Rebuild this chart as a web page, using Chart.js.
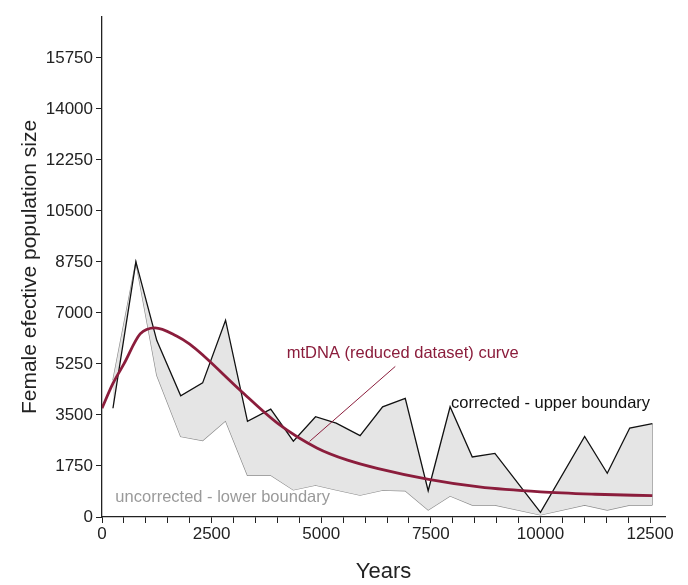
<!DOCTYPE html>
<html>
<head>
<meta charset="utf-8">
<script src="https://cdn.jsdelivr.net/npm/chart.js@4"></script>
<style>
  html, body { margin: 0; padding: 0; background: #fff; }
  #wrap { width: 688px; height: 585px; }
</style>
</head>
<body>
<div id="wrap"><canvas id="neChart"></canvas></div>
<script>
// corrected - upper boundary
const upperYears = [250, 773, 1250, 1795, 2295, 2818, 3318, 3848, 4364, 4870, 5341, 5886, 6400, 6916, 7439, 7939, 8445, 8961, 10000, 11007, 11523, 12036, 12552];
const upperNe    = [3730, 8750, 6050, 4160, 4600, 6750, 3280, 3700, 2600, 3440, 3220, 2790, 3780, 4070, 900, 3780, 2060, 2180, 160, 2760, 1500, 3050, 3200];

// uncorrected - lower boundary
const lowerYears = upperYears;
const lowerNe    = [4690, 8750, 4860, 2760, 2620, 3300, 1430, 1430, 930, 1090, 930, 750, 920, 900, 240, 720, 410, 410, 70, 410, 240, 410, 410];

// mtDNA (reduced dataset) curve
const curveYears = [0, 250, 500, 870, 1210, 1700, 2000, 2310, 3150, 4000, 4900, 5600, 6300, 7450, 8600, 10000, 11250, 12550];
const curveNe    = [3730, 4580, 5250, 6280, 6490, 6210, 5930, 5540, 4350, 3220, 2370, 1950, 1660, 1290, 1030, 860, 780, 730];

// leader line from curve to its label
const leaderYears = [4734, 6689];
const leaderNe    = [2593, 5165];

// tick values
const yTicks = [0, 1750, 3500, 5250, 7000, 8750, 10500, 12250, 14000, 15750];
const xLabels = [0, 2500, 5000, 7500, 10000, 12500];
const xMinorStep = 500;

const pts = (xs, ys) => xs.map((x, i) => ({ x: x, y: ys[i] }));

const FONT = "'Liberation Sans', Arial, sans-serif";
const MAROON = '#8b1d3c';

const textLabels = [
  { text: 'mtDNA (reduced dataset) curve', x: 4214, y: 5625, color: MAROON },
  { text: 'corrected - upper boundary', x: 7961, y: 3910, color: '#111' },
  { text: 'uncorrected - lower boundary', x: 305, y: 686, color: '#9a9a9a' }
];

const labelPlugin = {
  id: 'labels',
  afterDatasetsDraw(chart) {
    const ctx = chart.ctx, xs = chart.scales.x, ys = chart.scales.y;
    ctx.save();
    ctx.font = '16.5px ' + FONT;
    ctx.textBaseline = 'middle';
    ctx.textAlign = 'left';
    textLabels.forEach(l => {
      ctx.fillStyle = l.color;
      ctx.fillText(l.text, xs.getPixelForValue(l.x), ys.getPixelForValue(l.y));
    });
    ctx.restore();
  }
};

const lastI = upperYears.length - 1;

new Chart(document.getElementById('neChart').getContext('2d'), {
  type: 'line',
  data: {
    datasets: [
      {
        label: 'upper',
        data: pts(upperYears, upperNe),
        borderColor: '#111',
        borderWidth: 1.3,
        backgroundColor: '#e5e5e5',
        fill: '+1',
        pointRadius: 0,
        tension: 0,
        order: 3
      },
      {
        label: 'lower',
        data: pts(lowerYears, lowerNe),
        borderColor: '#8c8c8c',
        borderWidth: 1.3,
        fill: false,
        pointRadius: 0,
        tension: 0,
        order: 4
      },
      {
        label: 'edge',
        data: [{ x: upperYears[lastI], y: lowerNe[lastI] }, { x: upperYears[lastI], y: upperNe[lastI] }],
        borderColor: '#9a9a9a',
        borderWidth: 1,
        fill: false,
        pointRadius: 0,
        order: 5
      },
      {
        label: 'leader',
        data: pts(leaderYears, leaderNe),
        borderColor: MAROON,
        borderWidth: 1,
        fill: false,
        pointRadius: 0,
        order: 2
      },
      {
        label: 'curve',
        data: pts(curveYears, curveNe),
        borderColor: MAROON,
        borderWidth: 2.8,
        fill: false,
        pointRadius: 0,
        cubicInterpolationMode: 'monotone',
        order: 1
      }
    ]
  },
  options: {
    responsive: true,
    maintainAspectRatio: false,
    animation: false,
    layout: { padding: { top: 17, right: 23, left: 0, bottom: 0 } },
    plugins: {
      legend: { display: false },
      tooltip: { enabled: false }
    },
    scales: {
      x: {
        type: 'linear',
        min: 0,
        max: 12840,
        afterFit(s) { s.height = 68; },
        afterBuildTicks(s) {
          const t = [];
          for (let v = 0; v <= xLabels[xLabels.length - 1]; v += xMinorStep) t.push({ value: v });
          s.ticks = t;
        },
        border: { color: '#222', width: 1.3 },
        grid: { drawOnChartArea: false, tickLength: 6, color: '#222', tickWidth: 1 },
        ticks: {
          autoSkip: false,
          maxRotation: 0,
          padding: 1,
          color: '#222',
          font: { family: FONT, size: 17 },
          callback: v => (xLabels.includes(v) ? String(v) : '')
        },
        title: {
          display: true,
          text: 'Years',
          color: '#222',
          font: { family: FONT, size: 22 },
          padding: { top: 0, bottom: 0 }
        }
      },
      y: {
        min: 0,
        max: 17150,
        afterFit(s) { s.width = 102; },
        afterBuildTicks(s) { s.ticks = yTicks.map(v => ({ value: v })); },
        border: { color: '#222', width: 1.3 },
        grid: { drawOnChartArea: false, tickLength: 6, color: '#222' },
        ticks: {
          autoSkip: false,
          padding: 3,
          color: '#222',
          font: { family: FONT, size: 17 },
          callback: v => String(v)
        },
        title: {
          display: true,
          text: 'Female efective population size',
          color: '#222',
          font: { family: FONT, size: 21 },
          padding: { top: 18, bottom: 0 }
        }
      }
    }
  },
  plugins: [labelPlugin]
});
</script>
</body>
</html>
